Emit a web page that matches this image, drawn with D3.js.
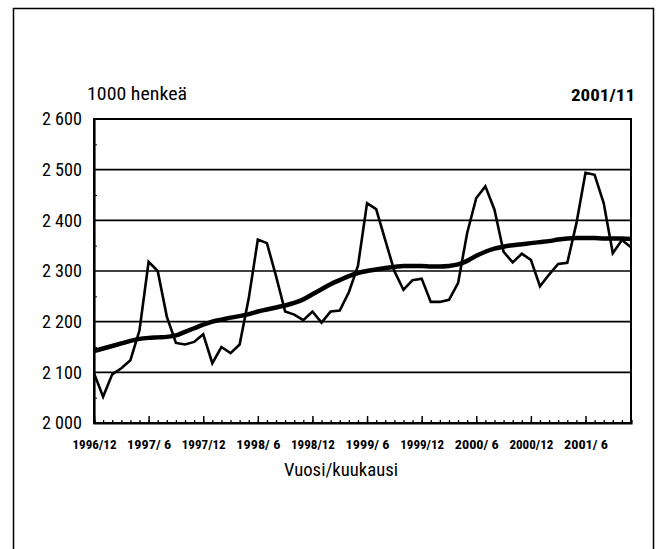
<!DOCTYPE html>
<html><head><meta charset="utf-8">
<script src="https://cdn.jsdelivr.net/npm/d3@7"></script>
<style>
html,body{margin:0;padding:0;background:#fff;}
text{font-family:"Liberation Sans Narrow","Arial Narrow","Roboto Condensed","Liberation Sans",Arial,sans-serif;fill:#000;}
</style></head>
<body>
<svg id="c" width="658" height="549"></svg>
<script>
// Months 1996/12 .. 2001/11 (index 0..59)
const startYear = 1996, startMonth = 12;
const monthCount = 60;
// Employed persons, 1000 (monthly original series)
const employed = [
 2098,2052,2096,2108,2124,2183,2318,2300,2210,2158,2155,2160,
 2175,2118,2150,2138,2155,2246,2362,2355,2290,2220,2214,2203,
 2220,2198,2220,2222,2258,2310,2434,2422,2361,2300,2263,2282,
 2285,2239,2239,2243,2276,2375,2444,2467,2421,2338,2317,2334,
 2322,2270,2293,2314,2316,2394,2494,2490,2434,2335,2361,2347
];
// Trend series
const trend = [
 2142,2147,2152,2157,2162,2166,2168,2169,2170,2173,2180,2187,
 2194,2200,2204,2208,2211,2215,2220,2224,2228,2232,2237,2244,
 2254,2264,2274,2282,2290,2296,2300,2303,2306,2308,2310,2310,
 2310,2309,2309,2310,2313,2320,2330,2338,2344,2348,2351,2353,
 2355,2357,2359,2362,2364,2365,2365,2365,2364,2364,2364,2363
];
const xTickLabels = ["1996/12","1997/ 6","1997/12","1998/ 6","1998/12","1999/ 6","1999/12","2000/ 6","2000/12","2001/ 6"];
const yTicks = [2000,2100,2200,2300,2400,2500,2600];
const yMinorTicks = [2050,2150,2250,2350,2450,2550];
const unitLabel = "1000 henkeä";
const periodLabel = "2001/11";
const xTitle = "Vuosi/kuukausi";

const svg = d3.select("#c");
const L = 94, R = 631, T = 119, B = 423;

// outer frame
svg.append("path").attr("d","M13.5,549 V8.5 H653.5 V549").attr("fill","none").attr("stroke","#000").attr("stroke-width",1.5);

const x = d3.scaleLinear().domain([0, monthCount-1]).range([L, R]);
const y = d3.scaleLinear().domain([2000, 2600]).range([B, T]);
const loc = d3.formatLocale({decimal:",", thousands:" ", grouping:[3], currency:["",""]});
const fmt = loc.format(",");

// gridlines
svg.append("g").selectAll("line").data(yTicks.slice(1,-1)).join("line")
  .attr("x1",L).attr("x2",R).attr("y1",d=>y(d)).attr("y2",d=>y(d))
  .attr("stroke","#000").attr("stroke-width",1.6);

// plot frame
svg.append("rect").attr("x",L).attr("y",T).attr("width",R-L).attr("height",B-T)
  .attr("fill","none").attr("stroke","#000").attr("stroke-width",2);

// y axis
const yAxis = svg.append("g").attr("transform",`translate(${L},0)`)
  .call(d3.axisLeft(y).tickValues(yTicks).tickSize(0).tickPadding(12).tickFormat(fmt));
yAxis.select(".domain").attr("stroke-width",2.2);
yAxis.selectAll("text").attr("font-size",18).attr("textLength",40).attr("lengthAdjust","spacingAndGlyphs");
svg.append("g").attr("transform",`translate(${L},0)`)
  .call(d3.axisLeft(y).tickValues(yMinorTicks).tickSize(-3).tickFormat(""))
  .call(g=>g.select(".domain").remove());

// x axis minor ticks
const allIdx = d3.range(monthCount);
svg.append("g").attr("transform",`translate(0,${B})`)
  .call(d3.axisBottom(x).tickValues(allIdx).tickSize(-3).tickFormat(""))
  .call(g=>g.select(".domain").attr("stroke-width",2.2))
  .selectAll("line").attr("stroke-width",1.3);
const majorIdx = d3.range(0, monthCount, 6);
const xAxis = svg.append("g").attr("transform",`translate(0,${B})`)
  .call(d3.axisBottom(x).tickValues(majorIdx).tickSize(-7).tickPadding(17).tickFormat((d,i)=>xTickLabels[i]));
xAxis.select(".domain").remove();
xAxis.selectAll("line").attr("stroke-width",1.5);
xAxis.selectAll("text").attr("font-size",12.5).attr("font-weight","bold")
  .attr("textLength",44).attr("lengthAdjust","spacingAndGlyphs");

// lines
const line = d3.line().x((d,i)=>x(i)).y(d=>y(d));
svg.append("path").datum(employed).attr("d",line).attr("fill","none")
  .attr("stroke","#000").attr("stroke-width",2.6).attr("stroke-linejoin","miter");
svg.append("path").datum(trend).attr("d",line.curve(d3.curveMonotoneX)).attr("fill","none")
  .attr("stroke","#000").attr("stroke-width",4.5).attr("stroke-linejoin","round");

// texts
svg.append("text").attr("x",87).attr("y",100).attr("font-size",18).text(unitLabel)
  .attr("textLength",100).attr("lengthAdjust","spacingAndGlyphs");
svg.append("text").attr("x",635).attr("y",101).attr("font-size",17).attr("font-weight","bold")
  .attr("text-anchor","end").text(periodLabel)
  .attr("textLength",64).attr("lengthAdjust","spacingAndGlyphs");
svg.append("text").attr("x",341).attr("y",476).attr("font-size",18).attr("text-anchor","middle").text(xTitle)
  .attr("textLength",114).attr("lengthAdjust","spacingAndGlyphs");
</script>
</body></html>
